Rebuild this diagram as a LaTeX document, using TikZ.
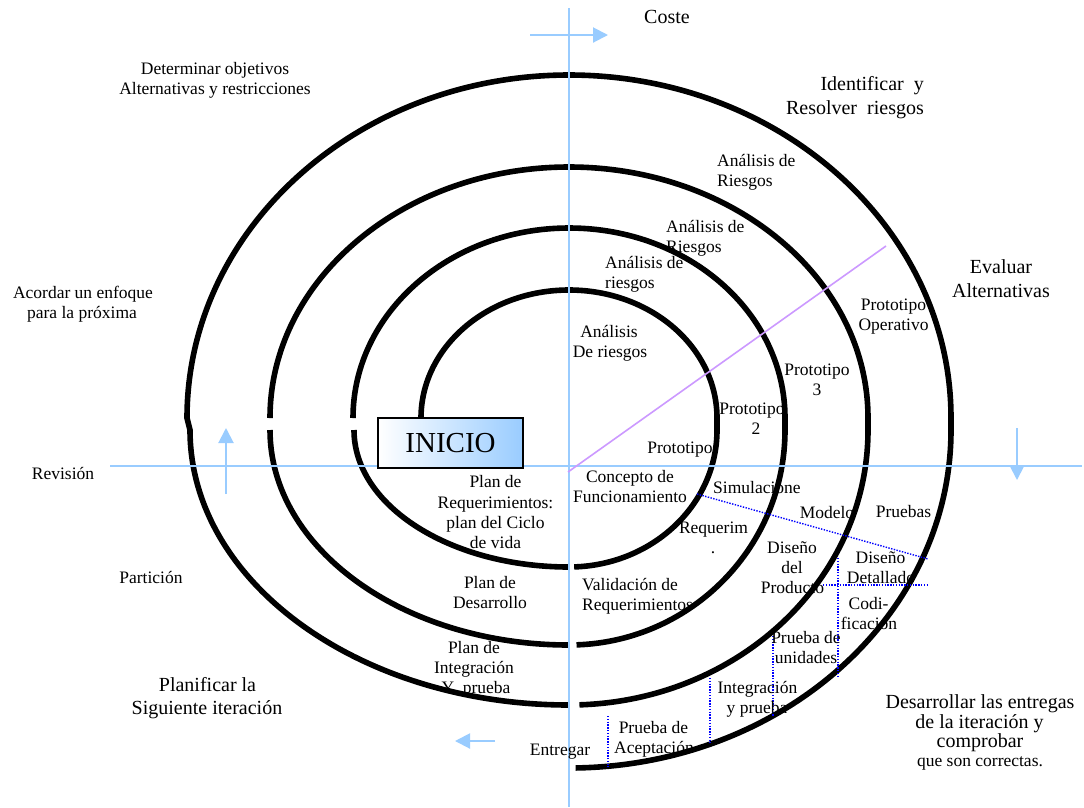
\documentclass[tikz,border=0pt]{standalone}
\usepackage{fontspec}
\setmainfont{Liberation Serif}
\usetikzlibrary{arrows.meta}
\definecolor{axisblue}{RGB}{153,204,255}
\definecolor{lilac}{RGB}{204,153,255}
\tikzset{
  txt/.style={font=\fontsize{17.5}{20}\selectfont, inner sep=0pt, anchor=base},
  txtl/.style={txt, anchor=base west},
  bigtxt/.style={font=\fontsize{20}{24}\selectfont, inner sep=0pt, anchor=base},
  ring/.style={line width=5.6pt, black},
  axisline/.style={line width=2pt, axisblue},
  axarrow/.style={axisline, -{Triangle[length=15pt,width=15pt]}},
  dotl/.style={blue, line width=1.4pt, dash pattern=on 1.4pt off 1.4pt},
  diag/.style={lilac, line width=1.6pt},
}
\begin{document}
\begin{tikzpicture}[x=1pt,y=1pt]
\useasboundingbox (0,0) rectangle (1084,-807);
\fill[white] (0,0) rectangle (1084,-807);

% spiral
\draw[ring] (421,-418) arc[start angle=180,end angle=0,x radius=148pt,y radius=128pt]
  -- (717,-430) arc[start angle=0,end angle=-88,x radius=148pt,y radius=137pt];
\draw[ring] (569,-567) arc[start angle=-90,end angle=-180,x radius=215pt,y radius=137pt];
\draw[ring] (353,-418) arc[start angle=180,end angle=0,x radius=216pt,y radius=190pt]
  -- (785,-430) arc[start angle=0,end angle=-88,x radius=216pt,y radius=215pt];
\draw[ring] (569,-645) arc[start angle=-90,end angle=-180,x radius=299pt,y radius=215pt];
\draw[ring] (270,-418) arc[start angle=180,end angle=0,x radius=299pt,y radius=251pt]
  -- (868,-430) arc[start angle=0,end angle=-88,x radius=299pt,y radius=275pt];
\draw[ring] (569,-705) arc[start angle=-90,end angle=-180,x radius=379pt,y radius=275pt]
  -- (187,-418) arc[start angle=180,end angle=0,x radius=382pt,y radius=343pt]
  -- (951,-430) arc[start angle=0,end angle=-89,x radius=382pt,y radius=338pt];

% axes
\coordinate (vtop) at (569,-8);
\coordinate (vbot) at (569,-807);
\coordinate (hleft) at (110,-466);
\coordinate (hright) at (1082,-466);
\draw[axisline] (vtop) -- (vbot);
\draw[axisline] (hleft) -- (hright);

% direction arrows
\coordinate (a1s) at (530,-35);  \coordinate (a1e) at (608,-35);
\coordinate (a2s) at (226,-494); \coordinate (a2e) at (226,-428);
\coordinate (a3s) at (1017,-428);\coordinate (a3e) at (1017,-480);
\coordinate (a4s) at (495,-741); \coordinate (a4e) at (455,-741);
\draw[axarrow] (a1s) -- (a1e);
\draw[axarrow] (a2s) -- (a2e);
\draw[axarrow] (a3s) -- (a3e);
\draw[axarrow] (a4s) -- (a4e);

% diagonal
\coordinate (dgs) at (568,-472);
\coordinate (dge) at (886,-246);
\draw[diag] (dgs) -- (dge);

% dotted lines
\coordinate (d1s) at (697,-494); \coordinate (d1e) at (928,-559);
\coordinate (d2s) at (823,-585); \coordinate (d2e) at (928,-585);
\coordinate (d3s) at (838,-558); \coordinate (d3e) at (838,-677);
\coordinate (d4s) at (773,-636); \coordinate (d4e) at (773,-717);
\coordinate (d5s) at (710,-678); \coordinate (d5e) at (710,-743);
\coordinate (d6s) at (608,-716); \coordinate (d6e) at (608,-767);
\draw[dotl] (d1s) -- (d1e);
\draw[dotl] (d2s) -- (d2e);
\draw[dotl] (d3s) -- (d3e);
\draw[dotl] (d4s) -- (d4e);
\draw[dotl] (d5s) -- (d5e);
\draw[dotl] (d6s) -- (d6e);

% INICIO
\node[draw=black, line width=1.5pt, left color=white, right color=axisblue,
  minimum width=145pt, minimum height=50pt, inner sep=0pt,
  font=\fontsize{29}{32}\selectfont] (inicio) at (450.5,-443) {INICIO};

% texts
\node[bigtxt] (coste) at (667,-23) {Coste};
\node[txt] (det1) at (215,-74) {Determinar objetivos};
\node[txt] (det2) at (215,-94) {Alternativas y restricciones};
\node[bigtxt, anchor=base east] (ide1) at (924,-90) {Identificar\ \ y};
\node[bigtxt, anchor=base east] (ide2) at (924,-114) {Resolver\ \ riesgos};
\node[bigtxt] (eva1) at (1001,-273) {Evaluar};
\node[bigtxt] (eva2) at (1001,-297) {Alternativas};
\node[txtl] (ar4a) at (717,-166) {Análisis de};
\node[txtl] (ar4b) at (717,-186) {Riesgos};
\node[txtl] (ar3a) at (666,-232) {Análisis de};
\node[txtl] (ar3b) at (666,-252) {Riesgos};
\node[txtl] (ar2a) at (605,-268) {Análisis de};
\node[txtl] (ar2b) at (605,-288) {riesgos};
\node[txt] (ar1a) at (609,-337) {Análisis};
\node[txt] (ar1b) at (610,-357) {De riesgos};
\node[txt] (aco1) at (83,-298) {Acordar un enfoque};
\node[txt] (aco2) at (82,-318) {para la próxima};
\node[txt] (po1) at (893.5,-310) {Prototipo};
\node[txt] (po2) at (893.5,-330) {Operativo};
\node[txt] (p3a) at (817,-375) {Prototipo};
\node[txt] (p3b) at (817,-395) {3};
\node[txt] (p2a) at (752,-414) {Prototipo};
\node[txt] (p2b) at (756,-434) {2};
\node[txt] (p1) at (680,-453) {Prototipo};
\node[txt] (rev) at (63,-479) {Revisión};
\node[txt] (pr1) at (495.5,-487) {Plan de};
\node[txt] (pr2) at (495.5,-508) {Requerimientos:};
\node[txt] (pr3) at (495.5,-528) {plan del Ciclo};
\node[txt] (pr4) at (495.5,-548) {de vida};
\node[txt] (cf1) at (630,-482) {Concepto de};
\node[txt] (cf2) at (630,-502) {Funcionamiento};
\node[txtl] (sim) at (713,-493) {Simulacione};
\node[txt] (mod) at (827,-518) {Modelo};
\node[txt] (pru) at (903.5,-517) {Pruebas};
\node[txt] (req1) at (713.5,-533) {Requerim};
\node[txt] (req2) at (713,-553) {.};
\node[txt] (dp1) at (792,-553) {Diseño};
\node[txt] (dp2) at (792,-573) {del};
\node[txt] (dp3) at (792.5,-593) {Producto};
\node[txt] (dd1) at (880.5,-563) {Diseño};
\node[txt] (dd2) at (881,-583) {Detallado};
\node[txt] (cod1) at (868.5,-609) {Codi-};
\node[txt] (cod2) at (869,-629) {ficación};
\node[txt] (par) at (151,-583) {Partición};
\node[txtl] (val1) at (582,-590) {Validación de};
\node[txtl] (val2) at (582,-610) {Requerimientos};
\node[txt] (pd1) at (490,-588) {Plan de};
\node[txt] (pd2) at (490,-608) {Desarrollo};
\node[txt] (pu1) at (806,-643) {Prueba de};
\node[txt] (pu2) at (806,-663) {unidades};
\node[txt] (pi1) at (474,-653) {Plan de};
\node[txt] (pi2) at (474,-673) {Integración};
\node[txt] (pi3) at (476,-693) {Y\ \ prueba};
\node[bigtxt] (pl1) at (207.5,-691) {Planificar la};
\node[bigtxt] (pl2) at (207,-714) {Siguiente iteración};
\node[txt] (ip1) at (757.5,-693) {Integración};
\node[txt] (ip2) at (757,-713) {y prueba};
\node[bigtxt] (de1) at (980,-708) {Desarrollar las entregas};
\node[bigtxt] (de2) at (979.5,-728) {de la iteración y};
\node[bigtxt] (de3) at (980,-747) {comprobar};
\node[txt] (de4) at (980,-766) {que son correctas.};
\node[txt] (pa1) at (653.5,-733) {Prueba de};
\node[txt] (pa2) at (654,-753) {Aceptación};
\node[txt] (ent) at (560,-755) {Entregar};
\end{tikzpicture}
\end{document}
